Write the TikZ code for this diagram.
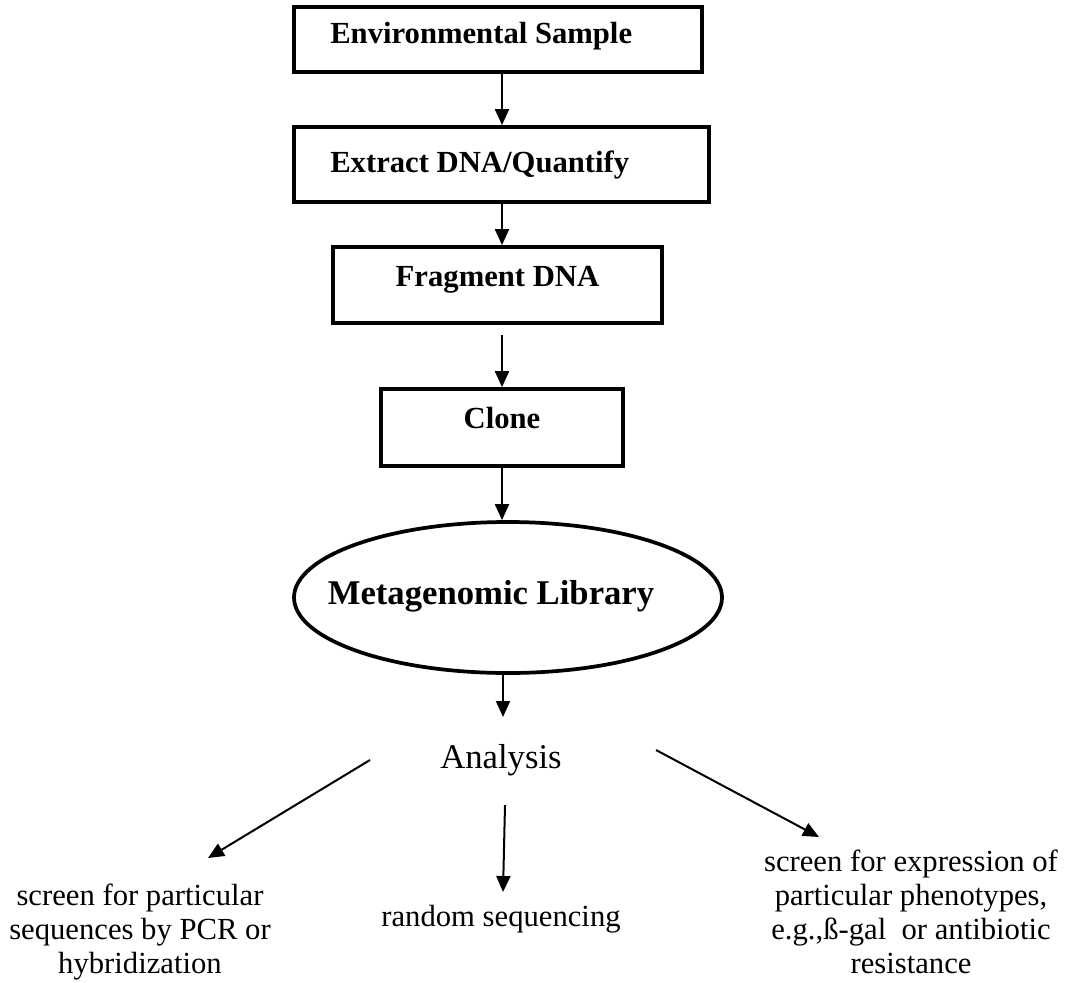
\documentclass[tikz,border=0pt]{standalone}
\usepackage{fontspec}
\setmainfont{Liberation Serif}
\usetikzlibrary{arrows.meta,shapes.geometric}
\tikzset{
  stepbox/.style={draw=black, line width=2.8pt, inner sep=0pt},
  boxtxt/.style={font=\fontsize{23}{26}\selectfont\bfseries, inner sep=0pt, anchor=base west},
  libell/.style={draw=black, ellipse, line width=2.8pt, inner sep=0pt, minimum width=321pt, minimum height=113.25pt},
  arr/.style={line width=1.5pt, -{Triangle[length=12pt,width=10.5pt]}},
  plaintxt/.style={font=\fontsize{23}{25.5}\selectfont, align=center, inner sep=0pt, anchor=base}
}
\begin{document}
\begin{tikzpicture}[x=0.75pt,y=-0.75pt]
\useasboundingbox (0,0) rectangle (1066,982);
% boxes
\node[stepbox, minimum width=306pt, minimum height=48.75pt] (env) at (498,39.5) {};
\node[boxtxt] (envt) at (330,43) {Environmental Sample};
\node[stepbox, minimum width=311.25pt, minimum height=56.25pt] (ext) at (501.5,164.5) {};
\node[boxtxt] (extt) at (330,172) {Extract DNA/Quantify};
\node[stepbox, minimum width=246.75pt, minimum height=57pt] (frag) at (497.5,285) {};
\node[boxtxt, anchor=base] (fragt) at (497.5,286) {Fragment DNA};
\node[stepbox, minimum width=181.5pt, minimum height=57.75pt] (clone) at (502,427.5) {};
\node[boxtxt, anchor=base] (clonet) at (502,428) {Clone};
% ellipse
\node[libell] (lib) at (508,597.5) {};
\node[font=\fontsize{26}{30}\selectfont\bfseries, inner sep=0pt, anchor=base] (libt) at (491,604) {Metagenomic Library};
% analysis
\node[font=\fontsize{26}{30}\selectfont, inner sep=0pt, anchor=base] (ana) at (501,768) {Analysis};
% outcome texts
\node[plaintxt] (left) at (140,973) {screen for particular\\sequences by PCR or\\hybridization};
\node[plaintxt] (mid) at (501,926) {random sequencing};
\node[plaintxt] (right) at (911,973) {screen for expression of\\particular phenotypes,\\e.g.,ß-gal\ \ or antibiotic\\resistance};
% free ends
\coordinate (anatop) at (503,717);
\coordinate (ls) at (370,760);
\coordinate (le) at (208,858);
\coordinate (ms) at (505,805);
\coordinate (me) at (503,892);
\coordinate (rs) at (656,750);
\coordinate (re) at (819,837);
% connectors
\draw[arr] (env.south -| clone) -- (ext.north -| clone);
\draw[arr] (ext.south -| clone) -- (frag.north -| clone);
\draw[arr] ([yshift=-7.5pt]frag.south -| clone) -- (clone.north);
\draw[arr] (clone.south) -- (lib.north -| clone);
\draw[arr] (lib.south -| anatop) -- (anatop);
\draw[arr] (ls) -- (le);
\draw[arr] (ms) -- (me);
\draw[arr] (rs) -- (re);
\end{tikzpicture}
\end{document}
